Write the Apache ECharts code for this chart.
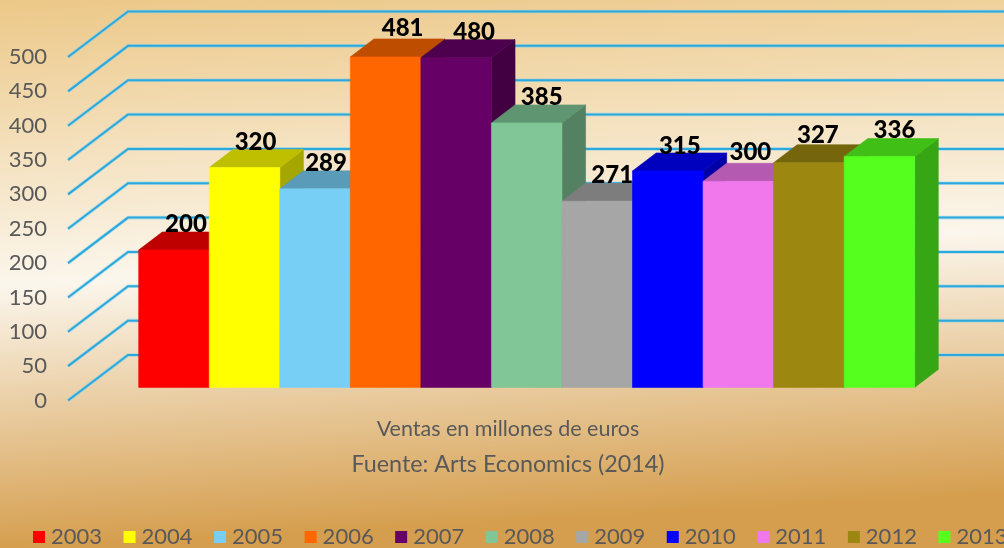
<!DOCTYPE html>
<html><head><meta charset="utf-8">
<style>html,body{margin:0;padding:0;overflow:hidden}#c{width:1004px;height:548px}</style>
<script src="https://cdn.jsdelivr.net/npm/echarts@6/dist/echarts.min.js"></script>
</head><body><div id="c"></div>
<script>
const years = ['2003','2004','2005','2006','2007','2008','2009','2010','2011','2012','2013'];
const sales = [200,320,289,481,480,385,271,315,300,327,336];
const barColors = ['#FF0000','#FFFF00','#77CFF5','#FF6600','#660066','#80C696','#A6A6A6','#0000FF','#F078EC','#9C8710','#55FF1E'];
const wallTicks = [0,50,100,150,200,250,300,350,400,450,500];
const labelNudgeX = [0,-1,-1,5,6,3,3,0,0,-3,3];
const labelNudgeY = [0,1,0,-3,1,0,0,1,-3,-1,0];
const FONT = 'Lato';
const TEXT = '#595959';
const DEPTH_X = 23.6, DEPTH_Y = 18;
const WALL_X = 60, WALL_Y = 45.5;

function shade(hex, k){
  const n = parseInt(hex.slice(1),16);
  const c = [n>>16&255, n>>8&255, n&255].map(v=>Math.round(v*k));
  return 'rgb('+c.join(',')+')';
}
function barItem(i){
  return function(params, api){
    const p = api.coord([api.value(0), api.value(1)]);
    const base = api.coord([api.value(0), 0]);
    const w = api.size([1,0])[0];
    const x0 = p[0]-w/2, x1 = p[0]+w/2, yt = p[1], yb = base[1];
    const c = barColors[i];
    const poly = (pts, fill, z2) => ({type:'polygon', shape:{points:pts}, z2:z2,
      style:{fill:fill, stroke:fill, lineWidth:0.6}, silent:true});
    return {type:'group', children:[
      poly([[x1,yb],[x1+DEPTH_X,yb-DEPTH_Y],[x1+DEPTH_X,yt-DEPTH_Y],[x1,yt]], shade(c,0.65), 1),
      poly([[x0,yt],[x0+DEPTH_X,yt-DEPTH_Y],[x1+DEPTH_X,yt-DEPTH_Y],[x1,yt]], shade(c,0.75), 1),
      poly([[x0,yt],[x1,yt],[x1,yb],[x0,yb]], c, 2),
      {type:'text', z2:100, silent:true, style:{
        text:String(api.value(1)), x:p[0]+12+labelNudgeX[i], y:yt-26+labelNudgeY[i],
        align:'center', verticalAlign:'middle', fill:'#000', font:'900 24px '+FONT}}
    ]};
  };
}
const barSeries = years.map((y,i)=>({
  name:y, type:'custom', xAxisIndex:0, yAxisIndex:0, z:3,
  itemStyle:{color:barColors[i]},
  data:[[y, sales[i]]], encode:{x:0,y:1},
  renderItem:barItem(i)
}));
const wallSeries = {
  name:'wall', type:'custom', xAxisIndex:1, yAxisIndex:1, z:1, silent:true,
  data:wallTicks.map(v=>[0,v]), encode:{x:0,y:1},
  renderItem:function(params, api){
    const p = api.coord([0, api.value(1)]);
    const right = params.coordSys.x + params.coordSys.width;
    const pts = [[p[0],p[1]],[p[0]+WALL_X,p[1]-WALL_Y],[right,p[1]-WALL_Y]];
    return {type:'group', children:[
      {type:'polyline', shape:{points:pts}, style:{fill:'none', stroke:'rgba(130,205,235,0.55)', lineWidth:3.6}},
      {type:'polyline', shape:{points:pts}, style:{fill:'none', stroke:'#2BA9DC', lineWidth:2}}
    ]};
  }
};
const chart = echarts.init(document.getElementById('c'), null, {renderer:'canvas'});
chart.setOption({
  animation:false,
  backgroundColor:new echarts.graphic.LinearGradient(0,0,0.03,1,[
    {offset:0,color:'#ECC888'},{offset:0.52,color:'#FBF6EC'},{offset:1,color:'#D59E4E'}]),
  textStyle:{fontFamily:FONT},
  title:[
    {text:'Ventas en millones de euros', left:503, top:413, textAlign:'center',
      textStyle:{fontFamily:FONT,fontWeight:'normal',fontSize:21.5,color:TEXT}},
    {text:'Fuente: Arts Economics (2014)', left:503, top:448, textAlign:'center',
      textStyle:{fontFamily:FONT,fontWeight:'normal',fontSize:23.3,color:TEXT}}
  ],
  legend:{
    data:years, left:28, top:521, width:1300, orient:'horizontal', icon:'rect',
    itemWidth:12, itemHeight:12, itemGap:21.5, selectedMode:false,
    textStyle:{fontFamily:FONT,fontSize:22,color:TEXT,padding:[0,0,0,1]}
  },
  grid:[
    {left:138.7, width:776, top:43.9, height:343.5},
    {left:68, width:1000, top:57, height:343.5}
  ],
  xAxis:[
    {type:'category', gridIndex:0, data:years, show:false, boundaryGap:true},
    {type:'value', gridIndex:1, min:0, max:1, show:false}
  ],
  yAxis:[
    {type:'value', gridIndex:0, min:0, max:500, interval:50, show:false},
    {type:'value', gridIndex:1, min:0, max:500, interval:50,
      axisLine:{show:false}, axisTick:{show:false}, splitLine:{show:false},
      axisLabel:{margin:21, fontFamily:FONT, fontSize:22, color:TEXT, padding:[0,0,2,0]}}
  ],
  series:[wallSeries].concat(barSeries)
});
</script></body></html>
